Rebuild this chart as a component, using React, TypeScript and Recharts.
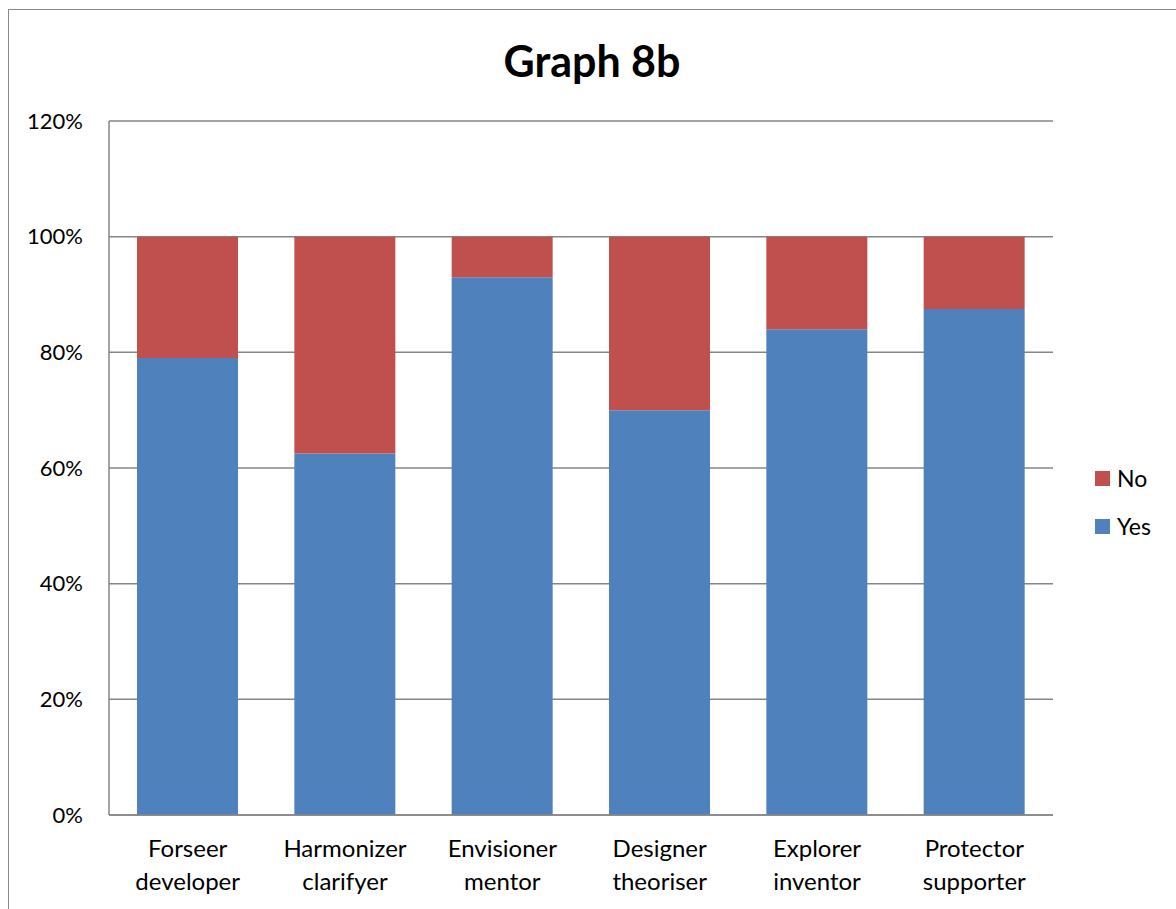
import React from "react";
import { BarChart, Bar, XAxis, YAxis, CartesianGrid, Legend } from "recharts";

const categories = [
  "Forseer developer",
  "Harmonizer clarifyer",
  "Envisioner mentor",
  "Designer theoriser",
  "Explorer inventor",
  "Protector supporter",
];
const yesValues = [79, 62.5, 93, 70, 84, 87.5];
const noValues = [21, 37.5, 7, 30, 16, 12.5];
const yTicks = [0, 20, 40, 60, 80, 100, 120];
const legendOrder = ["No", "Yes"];

const YES_COLOR = "#4F81BD";
const NO_COLOR = "#C0504D";
const GRID = "#868686";
const FONT = "Lato, 'Open Sans', sans-serif";

const data = categories.map((name, i) => ({
  name,
  Yes: yesValues[i],
  No: noValues[i],
}));

// two-line category label, split on the space
function CategoryTick({ x, y, payload }: any) {
  const words = String(payload.value).split(" ");
  return (
    <text x={x} y={y} textAnchor="middle" fill="#000" fontSize={24} fontFamily={FONT}>
      {words.map((w, i) => (
        <tspan key={i} x={x} dy={i === 0 ? 34 : 33}>
          {w}
        </tspan>
      ))}
    </text>
  );
}

function LegendBox({ payload }: any) {
  const items = legendOrder
    .map((k) => (payload || []).find((p: any) => p.value === k))
    .filter(Boolean);
  return (
    <div style={{ fontFamily: FONT, fontSize: 23, color: "#000" }}>
      {items.map((it: any) => (
        <div key={it.value} style={{ display: "flex", alignItems: "center", height: 48 }}>
          <span style={{ width: 15, height: 15, background: it.color, marginRight: 7 }} />
          <span>{it.value}</span>
        </div>
      ))}
    </div>
  );
}

export default function App() {
  return (
    <div style={{ position: "fixed", left: 0, top: 0, width: 1176, height: 909, background: "#fff" }}>
      <div
        style={{
          position: "absolute",
          left: 8,
          top: 9,
          width: 1168,
          height: 900,
          borderLeft: "1px solid #8a8a8a",
          borderTop: "1px solid #8a8a8a",
          boxSizing: "border-box",
        }}
      />
      <div
        style={{
          position: "absolute",
          left: 8,
          width: 1168,
          top: 34,
          textAlign: "center",
          fontFamily: FONT,
          fontWeight: 700,
          fontSize: 43,
          lineHeight: "54px",
        }}
      >
        Graph 8b
      </div>
      <div style={{ position: "absolute", left: 0, top: 0 }}>
        <BarChart
          width={1176}
          height={909}
          data={data}
          margin={{ top: 121, right: 123, bottom: 14, left: 0 }}
          barSize={101}
        >
          <CartesianGrid vertical={false} stroke={GRID} strokeWidth={1.5} />
          <XAxis
            dataKey="name"
            height={80}
            axisLine={{ stroke: GRID, strokeWidth: 1.5 }}
            tickLine={false}
            tick={<CategoryTick />}
            interval={0}
          />
          <YAxis
            width={109}
            domain={[0, 120]}
            ticks={yTicks}
            tickFormatter={(v: number) => `${v}%`}
            axisLine={{ stroke: GRID, strokeWidth: 1.5 }}
            tickLine={false}
            tickMargin={20}
            tick={{ fill: "#000", fontSize: 22, fontFamily: FONT }}
          />
          <Legend
            layout="vertical"
            align="center"
            verticalAlign="middle"
            content={<LegendBox />}
            wrapperStyle={{ left: 1095, top: 454, width: 76 }}
          />
          <Bar dataKey="Yes" stackId="a" fill={YES_COLOR} isAnimationActive={false} />
          <Bar dataKey="No" stackId="a" fill={NO_COLOR} isAnimationActive={false} />
        </BarChart>
      </div>
    </div>
  );
}
